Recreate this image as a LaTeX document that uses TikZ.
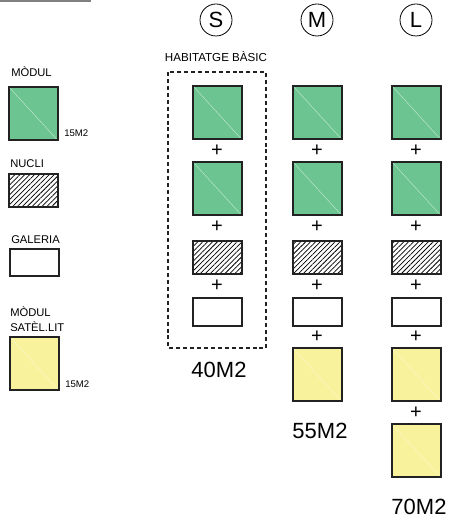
\documentclass[tikz,border=0pt]{standalone}
\usepackage{fontspec}
\setmainfont{Liberation Sans}
\usetikzlibrary{patterns.meta}
\definecolor{greenc}{HTML}{6CC490}
\definecolor{yellowc}{HTML}{F8F29C}
\definecolor{boxc}{HTML}{222222}
\tikzset{
  base/.style={draw=boxc, line width=1.4pt, inner sep=0pt, outer sep=0pt, anchor=north west},
  diag/.style={path picture={\draw[white!65!greenc, line width=0.3pt] (path picture bounding box.north west) -- (path picture bounding box.south east);}},
  modbox/.style={base, fill=greenc, minimum width=36.5pt, minimum height=40pt, diag},
  satbox/.style={base, fill=yellowc, minimum width=36.5pt, minimum height=40pt,
     path picture={\draw[white!50!yellowc, line width=0.3pt] (path picture bounding box.north west) -- (path picture bounding box.south east);}},
  nucbox/.style={base, fill=white, minimum width=36.5pt, minimum height=25pt,
     pattern={Lines[angle=45,distance=2.6pt,line width=0.55pt]}},
  galbox/.style={base, fill=white, minimum width=36.5pt, minimum height=21pt},
  lbl/.style={font=\fontsize{8.4}{10}\selectfont, anchor=base west, inner sep=0pt},
  small/.style={font=\fontsize{7.2}{8}\selectfont, anchor=base west, inner sep=0pt},
  plus/.style={font=\fontsize{15}{15}\selectfont, inner sep=0pt},
  area/.style={font=\fontsize{16.5}{18}\selectfont, inner sep=0pt},
  size/.style={draw, circle, line width=0.6pt, minimum size=24pt, inner sep=0pt, font=\fontsize{16.5}{16.5}\selectfont},
}
\begin{document}
\begin{tikzpicture}[x=0.75pt, y=-0.75pt]
\useasboundingbox (0,0) rectangle (452,523);
\draw[gray, line width=1.5pt] (0,1) coordinate (la) -- (91,1) coordinate (lb);
% legend
\node[lbl] (t1) at (11,77) {MÒDUL};
\node[modbox] (l1) at (9,87) {};
\node[small] (a1) at (64,137) {15M2};
\node[lbl] (t2) at (10,168) {NUCLI};
\node[nucbox, minimum height=25pt] (l2) at (9,174) {};
\node[lbl] (t3) at (11,244) {GALERIA};
\node[galbox, minimum height=20pt] (l3) at (10,249) {};
\node[lbl] (t4) at (10,316) {MÒDUL};
\node[lbl] (t5) at (10,331) {SATÈL.LIT};
\node[satbox] (l4) at (10,337) {};
\node[small] (a2) at (65,387) {15M2};
% S column
\node[size] (cs) at (216,20) {S};
\node[font=\fontsize{8.7}{10}\selectfont, inner sep=0pt] (hb) at (216,57) {HABITATGE BÀSIC};
\draw[dashed, dash pattern=on 3pt off 2.2pt, line width=1.1pt, boxc] (168,72) rectangle (266,348);
\node[modbox] (s1) at (193,86) {};
\node[plus] (sp1) at (217,151) {+};
\node[modbox] (s2) at (193,162) {};
\node[plus] (sp2) at (217,227) {+};
\node[nucbox] (s3) at (193,241) {};
\node[plus] (sp3) at (217,286) {+};
\node[galbox] (s4) at (193,298) {};
\node[area] (ss) at (219,370) {40M2};
% M column
\node[size] (cm) at (317,20) {M};
\node[modbox] (m1) at (293,86) {};
\node[plus] (mp1) at (317,151) {+};
\node[modbox] (m2) at (293,162) {};
\node[plus] (mp2) at (317,227) {+};
\node[nucbox] (m3) at (293,241) {};
\node[plus] (mp3) at (317,286) {+};
\node[galbox] (m4) at (293,298) {};
\node[plus] (mp4) at (317,337) {+};
\node[satbox] (m5) at (293,348) {};
\node[area] (ms) at (320,431) {55M2};
% L column
\node[size] (cl) at (416,20) {L};
\node[modbox] (q1) at (392,86) {};
\node[plus] (qp1) at (416,151) {+};
\node[modbox] (q2) at (392,162) {};
\node[plus] (qp2) at (416,227) {+};
\node[nucbox] (q3) at (392,241) {};
\node[plus] (qp3) at (416,286) {+};
\node[galbox] (q4) at (392,298) {};
\node[plus] (qp4) at (416,337) {+};
\node[satbox] (q5) at (392,348) {};
\node[plus] (qp5) at (416,413) {+};
\node[satbox] (q6) at (392,424) {};
\node[area] (ls) at (419,507) {70M2};
\end{tikzpicture}
\end{document}
